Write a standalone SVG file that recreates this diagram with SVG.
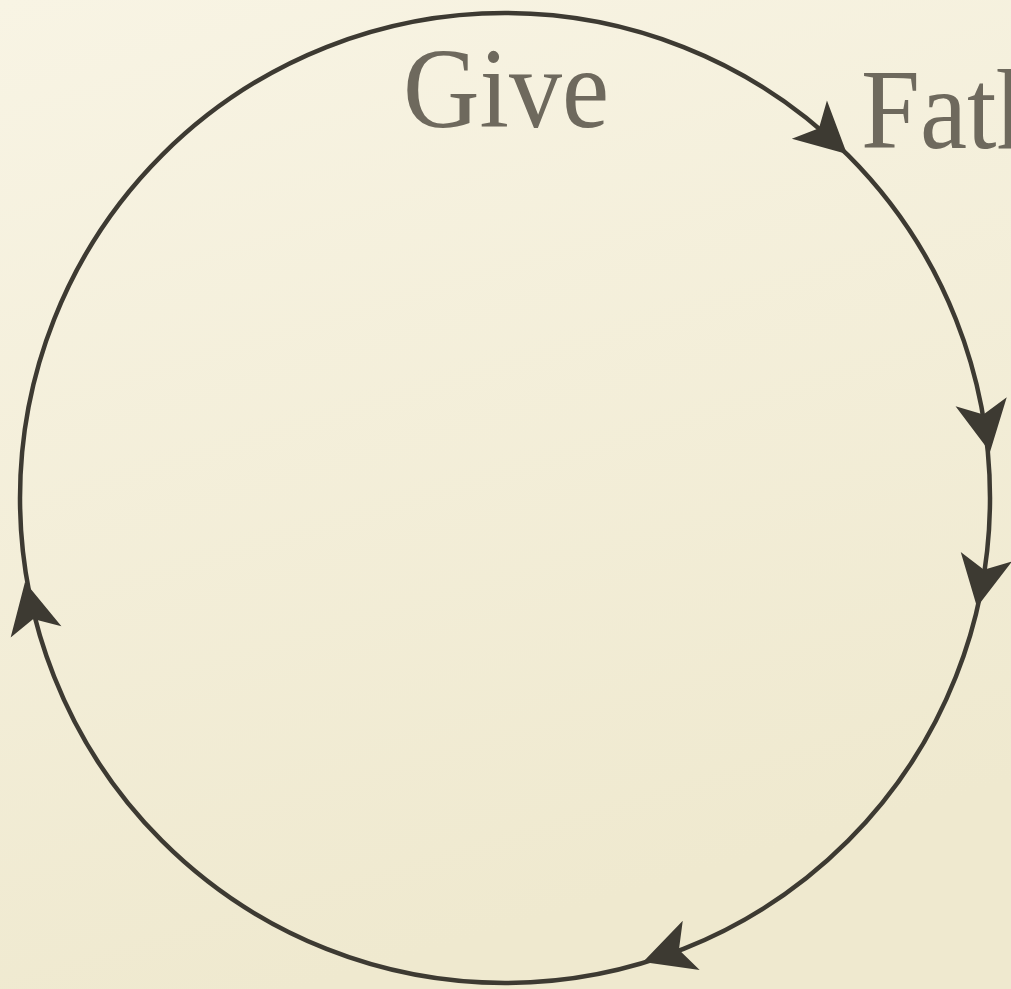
<svg xmlns="http://www.w3.org/2000/svg" width="1011" height="989" viewBox="0 0 1011 989">
  <defs>
    <linearGradient id="bg" x1="0" y1="0" x2="0.3" y2="1">
      <stop offset="0" stop-color="#f8f4e4"/>
      <stop offset="1" stop-color="#efe9cf"/>
    </linearGradient>
    <path id="ah" d="M0,0 L-51,-26 L-38,0 L-51,26 Z"/>
    <style>
      .ring { fill: none; stroke: #3d3a32; stroke-width: 4.5; }
      .head { fill: #3d3a32; }
      .lbl { font-family: "Liberation Serif", "Times New Roman", serif; font-size: 106px; fill: #6e695d; }
    </style>
  </defs>
  <rect width="1011" height="989" fill="url(#bg)"/>
  <g id="connectors">
    <circle class="ring" cx="505" cy="498" r="485"/>
    <use href="#ah" class="head" transform="translate(847,154) rotate(42.5)"/>
    <use href="#ah" class="head" transform="translate(990,452) rotate(80)"/>
    <use href="#ah" class="head" transform="translate(977,607) rotate(100.5)"/>
    <use href="#ah" class="head" transform="translate(643,962) rotate(161)"/>
    <use href="#ah" class="head" transform="translate(25,582) rotate(257.5)"/>
  </g>
  <g id="node-give">
    <text class="lbl" transform="translate(403,127) scale(1,1.07)">Give</text>
  </g>
  <g id="node-father">
    <text class="lbl" transform="translate(861,148) scale(1,1.07)">Fath</text>
  </g>
</svg>
